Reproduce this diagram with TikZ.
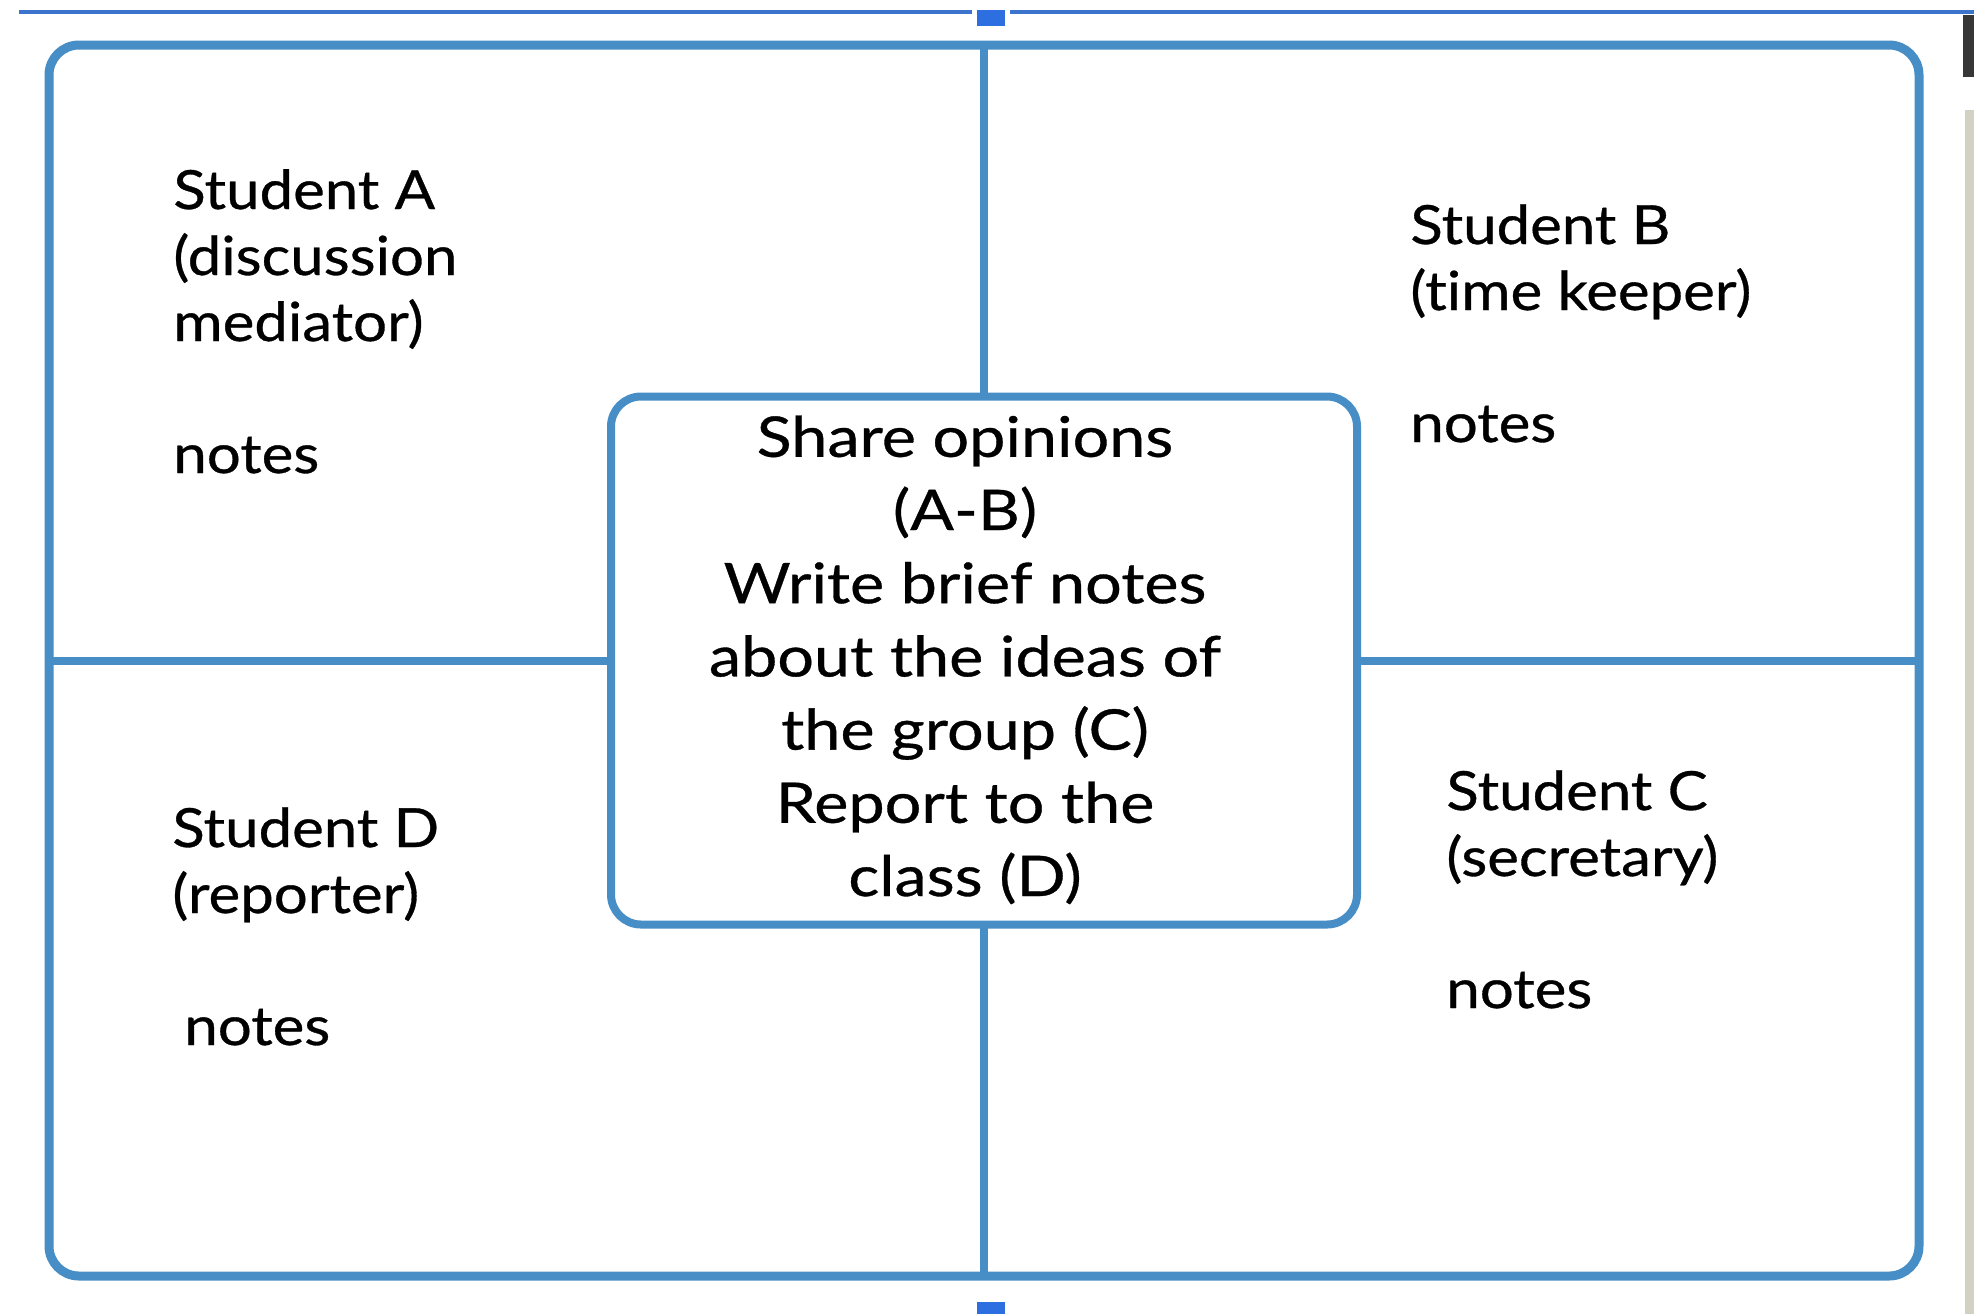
\documentclass[tikz,border=0pt]{standalone}
\usepackage{fontspec}
\setmainfont{Lato}
\newfontfamily\rolefont[FakeStretch=1.11,FakeBold=0.6,Ligatures=NoCommon]{Lato}
\newfontfamily\ctrfont[FakeStretch=1.155,FakeBold=0.6,Ligatures=NoCommon]{Lato}
\definecolor{lineblue}{RGB}{72,142,198}
\definecolor{topblue}{RGB}{60,115,205}
\definecolor{sqblue}{RGB}{45,110,225}
\definecolor{edgegray}{RGB}{210,210,195}
\definecolor{edgedark}{RGB}{55,55,55}
\begin{document}
\begin{tikzpicture}[x=0.5pt,y=-0.5pt,
  frame/.style={draw=lineblue, line width=4.5pt, rounded corners=15pt, inner sep=0pt, outer sep=0pt, fill=white},
  midbox/.style={draw=lineblue, line width=4pt, rounded corners=15pt, inner sep=0pt, outer sep=0pt, fill=white},
  conn/.style={draw=lineblue, line width=4pt},
  role/.style={font=\rolefont\fontsize{27}{33}\selectfont, align=left, inner sep=0pt, text=black},
  ctext/.style={font=\ctrfont\fontsize{28}{36.6}\selectfont, align=center, inner sep=0pt, text=black}]
\useasboundingbox (0,0) rectangle (1974,1314);
\fill[white] (0,0) rectangle (1974,1314);
% top ruler line and handles
\draw[topblue, line width=2pt] (19,12) -- (972,12);
\draw[topblue, line width=2pt] (1010,12) -- (1974,12);
\fill[sqblue] (977,10) rectangle (1005,26);
\fill[sqblue] (977,1302) rectangle (1005,1314);
\fill[edgedark] (1963,15) rectangle (1974,77);
\fill[edgegray] (1965,110) rectangle (1974,1314);
% outer frame
\node[frame, minimum width=935pt, minimum height=615.5pt] (outer) at (984,660.5) {};
% centre box
\node[midbox, minimum width=373pt, minimum height=264pt] (cbox) at (984,660.5) {};
\draw[conn] (outer.north) -- (cbox.north);
\draw[conn] (cbox.south) -- (outer.south);
\draw[conn] (outer.west) -- (cbox.west);
\draw[conn] (cbox.east) -- (outer.east);
\node[ctext, anchor=base] (ct) at (965,896) {Share opinions\\(A-B)\\Write brief notes\\about the ideas of\\the group (C)\\Report to the\\class (D)};
% roles
\node[role, anchor=base west] (sa) at (173,473) {Student A\\(discussion\\mediator)\\[33pt]notes};
\node[role, anchor=base west] (sb) at (1410,442) {Student B\\(time keeper)\\[33pt]notes};
\node[role, anchor=base west] (sc) at (1446,1008) {Student C\\(secretary)\\[33pt]notes};
\node[role, anchor=base west] (sd) at (172,1045) {Student D\\(reporter)\\[33pt]\hspace*{6pt}notes};
\end{tikzpicture}
\end{document}
